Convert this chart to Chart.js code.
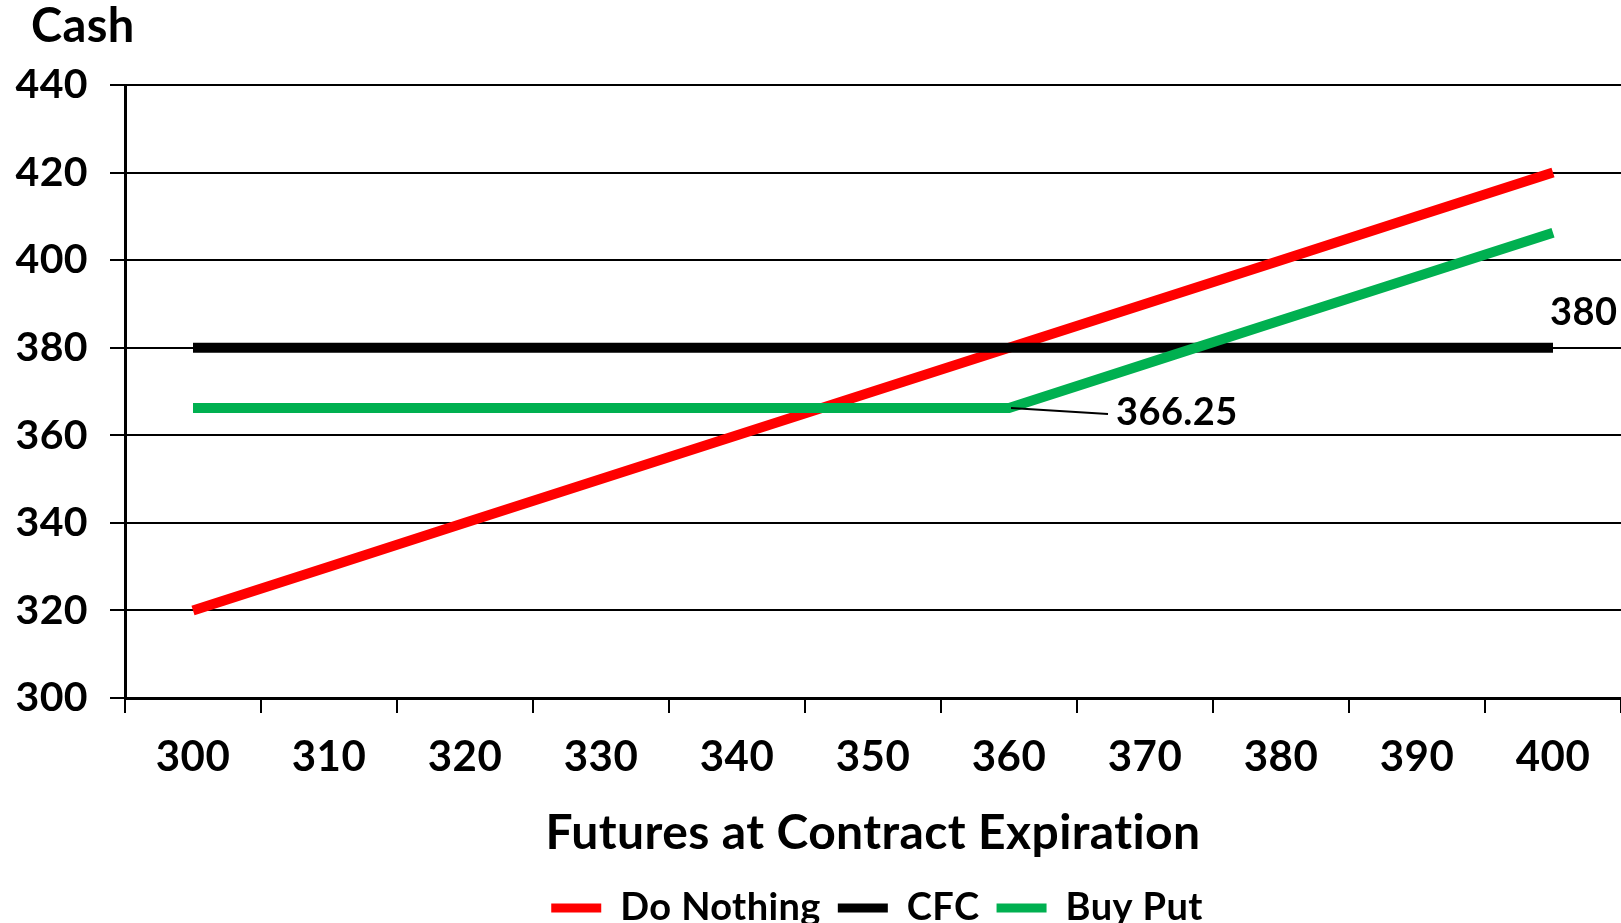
<!DOCTYPE html>
<html>
<head>
<meta charset="utf-8">
<script src="https://cdn.jsdelivr.net/npm/chart.js@4/dist/chart.umd.min.js"></script>
<style>
  html, body { margin: 0; padding: 0; background: #fff; overflow: hidden; }
  #wrap { position: relative; width: 1621px; height: 937px; }
</style>
</head>
<body>
<div id="wrap"><canvas id="chart"></canvas></div>
<script>
// Futures price at contract expiration (category axis)
const futuresPrices = ['300', '310', '320', '330', '340', '350', '360', '370', '380', '390', '400'];

// Cash received under each hedging strategy
const doNothing = [320, 330, 340, 350, 360, 370, 380, 390, 400, 410, 420];
const cfc = [380, 380, 380, 380, 380, 380, 380, 380, 380, 380, 380];
const buyPut = [366.25, 366.25, 366.25, 366.25, 366.25, 366.25, 366.25, 376.25, 386.25, 396.25, 406.25];

// Cash axis range
const cashMin = 300;
const cashMax = 440;
const cashStep = 20;

const cashAxisLabel = 'Cash';
const FONT = 'Lato, "Open Sans", sans-serif';

// Slight tracking keeps "ti" from being drawn as a ligature
const textTracking = {
  id: 'textTracking',
  beforeDraw(chart) {
    if ('letterSpacing' in chart.ctx) chart.ctx.letterSpacing = '0.4px';
  }
};

// Axis caption above the cash scale, plus value callouts:
// the CFC level at the last point and the put floor at its kink
const annotations = {
  id: 'annotations',
  afterDraw(chart) {
    const ctx = chart.ctx;
    const area = chart.chartArea;
    ctx.save();
    ctx.fillStyle = '#000';
    ctx.textBaseline = 'middle';
    ctx.textAlign = 'left';

    ctx.font = 'bold 47px ' + FONT;
    ctx.fillText(cashAxisLabel, area.left - 94, 27);

    ctx.font = 'bold 38px ' + FONT;
    const cfcMeta = chart.getDatasetMeta(1);
    const pCfc = cfcMeta.data[cfc.length - 1];
    ctx.fillText(String(cfc[cfc.length - 1]), pCfc.x - 3, pCfc.y - 35);

    const putMeta = chart.getDatasetMeta(2);
    const kink = 6;
    const pPut = putMeta.data[kink];
    ctx.strokeStyle = '#000';
    ctx.lineWidth = 2;
    ctx.beginPath();
    ctx.moveTo(pPut.x + 2, pPut.y);
    ctx.lineTo(pPut.x + 99, pPut.y + 6);
    ctx.stroke();
    ctx.fillText(buyPut[kink].toFixed(2), pPut.x + 107, pPut.y + 5);
    ctx.restore();
  }
};

const lineStyle = {
  borderWidth: 10,
  pointRadius: 0,
  pointHoverRadius: 0,
  tension: 0,
  fill: false,
  borderCapStyle: 'butt',
  borderJoinStyle: 'miter'
};

new Chart(document.getElementById('chart'), {
  type: 'line',
  data: {
    labels: futuresPrices,
    datasets: [
      Object.assign({ label: 'Do Nothing', data: doNothing, borderColor: '#FF0000', backgroundColor: '#FF0000', order: 3 }, lineStyle),
      Object.assign({ label: 'CFC', data: cfc, borderColor: '#000000', backgroundColor: '#000000', order: 2 }, lineStyle),
      Object.assign({ label: 'Buy Put', data: buyPut, borderColor: '#00B050', backgroundColor: '#00B050', order: 1 }, lineStyle)
    ]
  },
  options: {
    responsive: true,
    maintainAspectRatio: false,
    animation: false,
    events: [],
    layout: { padding: { left: 0, right: 0, top: 85, bottom: 0 } },
    plugins: {
      tooltip: { enabled: false },
      title: { display: false },
      legend: {
        position: 'bottom',
        fullSize: false,
        labels: {
          color: '#000',
          font: { family: FONT, size: 38, weight: 'bold' },
          boxWidth: 50,
          boxHeight: 9,
          padding: 17,
          generateLabels(chart) {
            return chart.data.datasets.map((ds, i) => ({
              text: ds.label,
              fillStyle: ds.borderColor,
              strokeStyle: ds.borderColor,
              lineWidth: 0,
              fontColor: '#000',
              hidden: false,
              datasetIndex: i
            }));
          }
        }
      }
    },
    scales: {
      x: {
        type: 'category',
        offset: true,
        afterFit(scale) { scale.height = 174; },
        grid: {
          offset: true,
          drawOnChartArea: false,
          drawTicks: true,
          tickLength: 15,
          color: '#000',
          lineWidth: 2
        },
        border: { color: '#000', width: 3 },
        ticks: {
          color: '#000',
          font: { family: FONT, size: 42, weight: 'bold' },
          padding: 19,
          maxRotation: 0,
          autoSkip: false
        },
        title: {
          display: true,
          text: 'Futures at Contract Expiration',
          color: '#000',
          font: { family: FONT, size: 48, weight: 'bold', lineHeight: 1.2 },
          padding: { top: 0, bottom: 10 }
        }
      },
      y: {
        min: cashMin,
        max: cashMax,
        afterFit(scale) { scale.width = 125; },
        grid: {
          color: '#000',
          lineWidth: 2,
          drawTicks: true,
          tickLength: 15,
          tickColor: '#000'
        },
        border: { color: '#000', width: 3 },
        ticks: {
          stepSize: cashStep,
          color: '#000',
          padding: 22,
          font: { family: FONT, size: 41, weight: 'bold' }
        }
      }
    }
  },
  plugins: [textTracking, annotations]
});
</script>
</body>
</html>
